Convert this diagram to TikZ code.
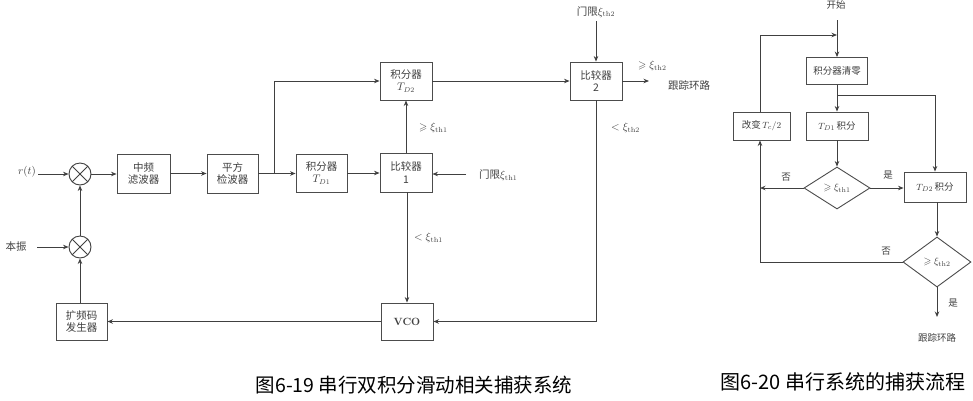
\documentclass[tikz,border=0pt]{standalone}
\usepackage{fontspec}
\usepackage{amssymb}
\newfontfamily\cjk{Noto Sans CJK SC}
\usetikzlibrary{arrows.meta,shapes.geometric}
\begin{document}
\begin{tikzpicture}[x=1pt,y=-1pt,
  ln/.style={draw=black!75,line width=0.9pt},
  ar/.style={ln,-{Stealth[length=5.5pt,width=4.5pt]}},
  blk/.style={draw=black!70,line width=0.9pt,align=center,inner sep=1pt,
     font=\cjk\fontsize{10.5}{12.5}\selectfont,text=black!75},
  fblk/.style={blk,font=\cjk\fontsize{9.5}{11}\selectfont},
  dia/.style={draw=black!70,line width=0.9pt,diamond,inner sep=0pt,text=black!75,
     font=\fontsize{10}{12}\selectfont},
  lbl/.style={text=black!75,inner sep=1pt,font=\cjk\fontsize{10.5}{12.5}\selectfont},
  flbl/.style={text=black!75,inner sep=1pt,font=\cjk\fontsize{9.5}{11}\selectfont},
  captxt/.style={text=black,inner sep=0pt,font=\cjk\fontsize{19.5}{22}\selectfont},
  mix/.style={draw=black!75,line width=0.9pt,circle,minimum size=22pt,inner sep=0pt,
     path picture={\draw[black!75,line width=0.9pt]
       ([shift={(-8pt,-8pt)}]path picture bounding box.center) -- ([shift={(8pt,8pt)}]path picture bounding box.center)
       ([shift={(-8pt,8pt)}]path picture bounding box.center) -- ([shift={(8pt,-8pt)}]path picture bounding box.center);}}
]
\useasboundingbox (0,0) rectangle (973,400);
\fill[white] (0,0) rectangle (973,400);

% ---------- left diagram ----------
\node[mix] (mix1) at (80,174) {};
\node[mix] (mix2) at (80,247) {};
\node[blk,minimum width=53pt,minimum height=39pt] (mid) at (143.5,173.5) {中频\\滤波器};
\node[blk,minimum width=51pt,minimum height=39pt] (sq) at (232.5,173.5) {平方\\检波器};
\node[blk,minimum width=51pt,minimum height=38pt] (int1) at (321.5,173) {积分器\\$T_{D1}$};
\node[blk,minimum width=52pt,minimum height=39pt] (cmp1) at (406,172.5) {比较器\\1};
\node[blk,minimum width=52pt,minimum height=38pt] (int2) at (406,81) {积分器\\$T_{D2}$};
\node[blk,minimum width=52pt,minimum height=38pt] (cmp2) at (596,81) {比较器\\2};
\node[blk,minimum width=52pt,minimum height=37pt,font=\bfseries\fontsize{10.5}{12.5}\selectfont] (vco) at (407,321.5) {VCO};
\node[blk,minimum width=51pt,minimum height=37pt] (gen) at (81.5,321.5) {扩频码\\发生器};

\node[lbl,font=\fontsize{11}{13}\selectfont] (rt) at (27,172) {$r(t)$};
\node[lbl] (bz) at (16,247) {本振};
\node[lbl,anchor=west] (th1) at (478,175) {门限$\xi_{\mathrm{th}1}$};
\node[lbl] (th2) at (596,12) {门限$\xi_{\mathrm{th}2}$};
\node[lbl,anchor=west] (ge1) at (418,128) {$\geqslant\xi_{\mathrm{th}1}$};
\node[lbl,anchor=west] (lt1) at (413,238) {$<\xi_{\mathrm{th}1}$};
\node[lbl,anchor=west] (ge2) at (637,66) {$\geqslant\xi_{\mathrm{th}2}$};
\node[lbl,anchor=west] (lt2) at (610,128) {$<\xi_{\mathrm{th}2}$};
\node[lbl,anchor=west] (trk) at (667,85) {跟踪环路};

\coordinate (rts) at (38,174);
\coordinate (bzs) at (37,247);
\coordinate (j1) at (274,173.5);
\coordinate (th1s) at (466,174);
\coordinate (th2s) at (596,21);
\coordinate (out2) at (649,81);

\draw[ar] (rts) -- (mix1.west);
\draw[ar] (bzs) -- (mix2.west);
\draw[ar] (mix1.east) -- (mix1.east -| mid.west);
\draw[ar] (mid.east) -- (sq.west);
\draw[ar] (sq.east) -- (sq.east -| int1.west);
\draw[ar] (j1) |- (int2.west);
\draw[ar] (int1.east) -- (int1.east -| cmp1.west);
\draw[ar] (cmp1.north) -- (int2.south);
\draw[ar] (th1s) -- (th1s -| cmp1.east);
\draw[ar] (int2.east) -- (cmp2.west);
\draw[ar] (th2s) -- (cmp2.north);
\draw[ar] (cmp2.east) -- (out2);
\draw[ar] (cmp1.south -| vco.north) -- (vco.north);
\draw[ar] (cmp2.south) |- (vco.east);
\draw[ar] (vco.west) -- (vco.west -| gen.east);
\draw[ar] (gen.north -| mix2.south) -- (mix2.south);
\draw[ar] (mix2.north) -- (mix1.south);

% ---------- right flowchart ----------
\node[flbl] (start) at (836,5) {开始};
\node[fblk,minimum width=61pt,minimum height=27pt] (clr) at (837,71) {积分器清零};
\node[fblk,minimum width=62pt,minimum height=28pt] (td1) at (837,126) {$T_{D1}$\,积分};
\node[fblk,minimum width=57pt,minimum height=28pt] (chg) at (761.5,126) {改变\,$T_c/2$};
\node[dia,minimum width=66pt,minimum height=42pt] (d1) at (837,188) {$\geqslant\xi_{\mathrm{th}1}$};
\node[fblk,minimum width=62pt,minimum height=30pt] (td2) at (935,187) {$T_{D2}$\,积分};
\node[dia,minimum width=68pt,minimum height=50pt] (d2) at (937,262) {$\geqslant\xi_{\mathrm{th}2}$};
\node[flbl] (endl) at (937,338) {跟踪环路};
\node[flbl] (no1) at (786,177) {否};
\node[flbl] (yes1) at (888,175) {是};
\node[flbl] (no2) at (886,251) {否};
\node[flbl] (yes2) at (953,303) {是};

\coordinate (s0) at (837,20);
\coordinate (lp) at (837,35);
\coordinate (br) at (837,95);
\coordinate (nl) at (760,188);
\coordinate (e2) at (937,317);

\draw[ar] (s0) -- (clr.north);
\draw[ar] (chg.north -| nl) |- (lp);
\draw[ar] (clr.south) -- (td1.north);
\draw[ar] (br) -| (td2.north);
\draw[ar] (td1.south) -- (d1.north);
\draw[ar] (d1.west) -- (nl);
\draw[ar] (nl) -- (nl |- chg.south);
\draw[ln] (nl) |- (d2.west);
\draw[ar] (d1.east) -- (d1.east -| td2.west);
\draw[ar] (td2.south -| d2.north) -- (d2.north);
\draw[ar] (d2.south) -- (e2);

% ---------- captions ----------
\node[captxt] (c1) at (414,385) {图6-19 串行双积分滑动相关捕获系统};
\node[captxt,font=\cjk\fontsize{20}{22}\selectfont] (c2) at (843,382) {图6-20 串行系统的捕获流程};
\end{tikzpicture}
\end{document}
